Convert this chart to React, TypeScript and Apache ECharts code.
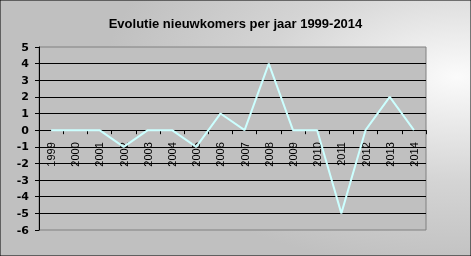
import React, { useEffect, useRef } from "react";
import * as echarts from "echarts";

const titleText = "Evolutie nieuwkomers per jaar 1999-2014";
const years = ["1999", "2000", "2001", "2002", "2003", "2004", "2005", "2006", "2007", "2008", "2009", "2010", "2011", "2012", "2013", "2014"];
const values = [0, 0, 0, -1, 0, 0, -1, 1, 0, 4, 0, 0, -5, 0, 2, 0];
const yMin = -6;
const yMax = 5;

const gridTop = 47;
const gridHeight = 183;
// move the category axis from the grid bottom up to the value 0
const zeroOffset = -((0 - yMin) / (yMax - yMin)) * gridHeight;

export default function App() {
  const ref = useRef<HTMLDivElement>(null);
  useEffect(() => {
    if (!ref.current) return;
    const chart = echarts.init(ref.current, null, { renderer: "svg" });
    chart.setOption({
      animation: false,
      graphic: [
        {
          type: "rect",
          z: -10,
          silent: true,
          shape: { x: 0, y: 0, width: 471, height: 256 },
          style: {
            fill: new echarts.graphic.RadialGradient(0.97, 0.3, 0.75, [
              { offset: 0, color: "#fbfbfb" },
              { offset: 0.55, color: "#d4d4d4" },
              { offset: 1, color: "#c0c0c0" },
            ]),
            stroke: "#000",
            lineWidth: 1,
          },
        },
      ],
      title: {
        text: titleText,
        left: "center",
        top: 12,
        textStyle: { fontFamily: "Liberation Sans", fontWeight: "bold", fontSize: 13, color: "#000" },
      },
      grid: {
        left: 39,
        top: gridTop,
        width: 387,
        height: gridHeight,
        show: true,
        outerBoundsMode: "none",
        containLabel: false,
        backgroundColor: "#c0c0c0",
        borderColor: "#808080",
        borderWidth: 1,
      },
      xAxis: {
        type: "category",
        data: years,
        boundaryGap: true,
        position: "bottom",
        offset: zeroOffset,
        axisLine: { onZero: false, lineStyle: { color: "#000", width: 1 } },
        axisTick: { show: true, length: 4, lineStyle: { color: "#000" } },
        axisLabel: {
          rotate: 90,
          margin: 12,
          fontFamily: "Liberation Sans",
          fontSize: 11,
          color: "#000",
          interval: 0,
        },
        splitLine: { show: false },
      },
      yAxis: {
        type: "value",
        min: yMin,
        max: yMax,
        interval: 1,
        axisLine: { show: true, lineStyle: { color: "#000", width: 1 } },
        axisTick: { show: true, length: 4, lineStyle: { color: "#000" } },
        axisLabel: {
          margin: 10,
          fontFamily: "DejaVu Sans",
          fontWeight: "bold",
          fontSize: 11,
          color: "#000",
        },
        splitLine: { show: true, showMinLine: false, showMaxLine: false, lineStyle: { color: "#000", width: 1 } },
      },
      series: [
        {
          type: "line",
          data: values,
          symbol: "none",
          lineStyle: { color: "#ccffff", width: 2 },
          itemStyle: { color: "#ccffff" },
        },
      ],
    });
    return () => chart.dispose();
  }, []);
  return (
    <div style={{ position: "fixed", left: 0, top: 0, width: 471, height: 256 }}>
      <div ref={ref} style={{ width: 471, height: 256 }} />
    </div>
  );
}
